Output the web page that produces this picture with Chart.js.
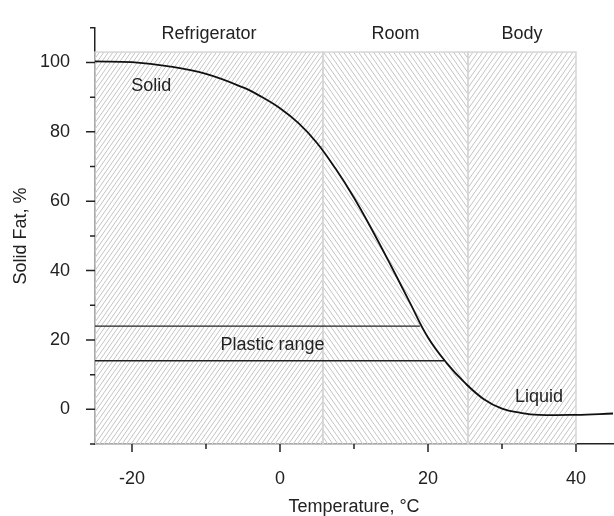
<!DOCTYPE html>
<html>
<head>
<meta charset="utf-8">
<script src="https://cdn.jsdelivr.net/npm/chart.js@4.4.0/dist/chart.umd.min.js"></script>
<style>
  body { margin: 0; background: #fff; }
  #wrap { width: 614px; height: 516px; }
</style>
</head>
<body>
<div id="wrap"><canvas id="fat"></canvas></div>
<script>
// solid fat curve
var temps    = [-25, -20, -15, -10, -5, -2.5, 0, 2.5, 5, 7.5, 10, 12.5, 15, 17.5, 20, 22.5, 25, 27.5, 30, 32.5, 35, 40, 45];
var solidFat = [100.3, 100.1, 98.9, 96.7, 92.8, 90.1, 86.8, 82.5, 76.8, 69.4, 61, 51.5, 41.4, 31, 20.7, 13.4, 7.6, 3, 0.2, -1.0, -1.6, -1.6, -1.2];

// plastic range lines (level, x where it meets the curve)
var plasticLevels = [24, 14];
var plasticEnds   = [18.9, 22.2];

// temperature zones
var zoneNames = ['Refrigerator', 'Room', 'Body'];
var zoneStart = [-25, 5.8, 25.4];
var zoneEnd   = [5.8, 25.4, 40];
var zoneTop   = 103;

// text notes on the plot
var noteText = ['Solid', 'Plastic range', 'Liquid'];
var noteX    = [-17.4, -1, 35];
var noteY    = [93.2, 18.5, 3.5];

var xMajor = [-20, 0, 20, 40];
var xMinor = [-10, 10, 30];
var yMajor = [0, 20, 40, 60, 80, 100];
var yMinor = [-10, 10, 30, 50, 70, 90, 110];

var FONT = '"Liberation Sans", Arial, Helvetica, sans-serif';
var INK = '#222';

function hatch(ctx, x0, y0, x1, y1, period, dir) {
  var h = y1 - y0;
  var run = h / Math.tan(55 * Math.PI / 180);
  ctx.save();
  ctx.beginPath();
  ctx.rect(x0, y0, x1 - x0, h);
  ctx.clip();
  ctx.strokeStyle = '#c4c4c4';
  ctx.lineWidth = 1;
  ctx.beginPath();
  for (var k = x0 - run; k < x1 + run; k += period) {
    if (dir == '/') {
      ctx.moveTo(k, y1);
      ctx.lineTo(k + run, y0);
    } else {
      ctx.moveTo(k, y0);
      ctx.lineTo(k + run, y1);
    }
  }
  ctx.stroke();
  ctx.restore();
}

var zonesPlugin = {
  id: 'zones',
  beforeDatasetsDraw: function(chart) {
    var ctx = chart.ctx, xs = chart.scales.x, ys = chart.scales.y;
    var dirs = ['/', '\\', '/'];
    var periods = [4.5, 5, 5];
    var bottom = ys.getPixelForValue(-10);
    var top = ys.getPixelForValue(zoneTop);
    for (var i = 0; i < zoneNames.length; i++) {
      var a = xs.getPixelForValue(zoneStart[i]);
      var b = xs.getPixelForValue(zoneEnd[i]);
      hatch(ctx, a, top, b, bottom, periods[i], dirs[i]);
    }
    ctx.save();
    ctx.strokeStyle = '#d6d6d6';
    ctx.lineWidth = 1.5;
    for (var i = 0; i < zoneNames.length; i++) {
      var a = xs.getPixelForValue(zoneStart[i]);
      var b = xs.getPixelForValue(zoneEnd[i]);
      ctx.strokeRect(a, top, b - a, bottom - top);
    }
    ctx.restore();
  },
  afterDatasetsDraw: function(chart) {
    var ctx = chart.ctx, xs = chart.scales.x, ys = chart.scales.y;
    ctx.save();
    ctx.fillStyle = INK;
    ctx.font = '18px ' + FONT;
    ctx.textAlign = 'center';
    ctx.textBaseline = 'middle';
    for (var i = 0; i < zoneNames.length; i++) {
      var cx = xs.getPixelForValue((zoneStart[i] + zoneEnd[i]) / 2);
      ctx.fillText(zoneNames[i], cx, ys.getPixelForValue(108.3));
    }
    for (var i = 0; i < noteText.length; i++) {
      ctx.fillText(noteText[i], xs.getPixelForValue(noteX[i]), ys.getPixelForValue(noteY[i]));
    }
    // tick marks, pointing out of the plot
    ctx.strokeStyle = INK;
    ctx.lineWidth = 1.5;
    ctx.beginPath();
    var yb = ys.getPixelForValue(-10);
    var xl = xs.getPixelForValue(-25);
    xMajor.forEach(function(v) { var p = xs.getPixelForValue(v); ctx.moveTo(p, yb); ctx.lineTo(p, yb + 8); });
    xMinor.forEach(function(v) { var p = xs.getPixelForValue(v); ctx.moveTo(p, yb); ctx.lineTo(p, yb + 5); });
    yMajor.forEach(function(v) { var p = ys.getPixelForValue(v); ctx.moveTo(xl, p); ctx.lineTo(xl - 9, p); });
    yMinor.forEach(function(v) { var p = ys.getPixelForValue(v); ctx.moveTo(xl, p); ctx.lineTo(xl - 5, p); });
    ctx.stroke();
    ctx.restore();
  }
};

var curve = temps.map(function(t, i) { return {x: t, y: solidFat[i]}; });

var datasets = [{
  data: curve,
  borderColor: '#111',
  borderWidth: 1.8,
  pointRadius: 0,
  tension: 0.4,
  fill: false
}];
plasticLevels.forEach(function(lv, i) {
  datasets.push({
    data: [{x: -25, y: lv}, {x: plasticEnds[i], y: lv}],
    borderColor: INK,
    borderWidth: 1.3,
    pointRadius: 0,
    fill: false
  });
});

var ctx = document.getElementById('fat').getContext('2d');
var myChart = new Chart(ctx, {
  type: 'line',
  data: { datasets: datasets },
  plugins: [zonesPlugin],
  options: {
    responsive: true,
    maintainAspectRatio: false,
    animation: false,
    layout: { padding: { top: 20, right: 1, left: 0, bottom: 0 } },
    plugins: { legend: { display: false }, tooltip: { enabled: false } },
    scales: {
      x: {
        type: 'linear',
        min: -25,
        max: 45,
        afterBuildTicks: function(s) { s.ticks = xMajor.map(function(v) { return {value: v}; }); },
        afterFit: function(s) { s.height = 72; },
        grid: { display: false },
        border: { display: true, color: INK, width: 1.5 },
        ticks: { color: INK, font: { family: FONT, size: 18, lineHeight: 1.2 }, padding: 16, maxRotation: 0 },
        title: { display: true, text: 'Temperature, °C', color: INK,
                 font: { family: FONT, size: 18, lineHeight: 1 }, padding: { top: 0, bottom: 0 } }
      },
      y: {
        min: -10,
        max: 110,
        afterBuildTicks: function(s) { s.ticks = yMajor.map(function(v) { return {value: v}; }); },
        afterFit: function(s) { s.width = 95; },
        grid: { display: false },
        border: { display: true, color: INK, width: 1.5 },
        ticks: { color: INK, font: { family: FONT, size: 18 }, padding: 17 },
        title: { display: true, text: 'Solid Fat, %', color: INK,
                 font: { family: FONT, size: 18, lineHeight: 1.2 }, padding: { top: 10, bottom: 0 } }
      }
    }
  }
});
</script>
</body>
</html>
